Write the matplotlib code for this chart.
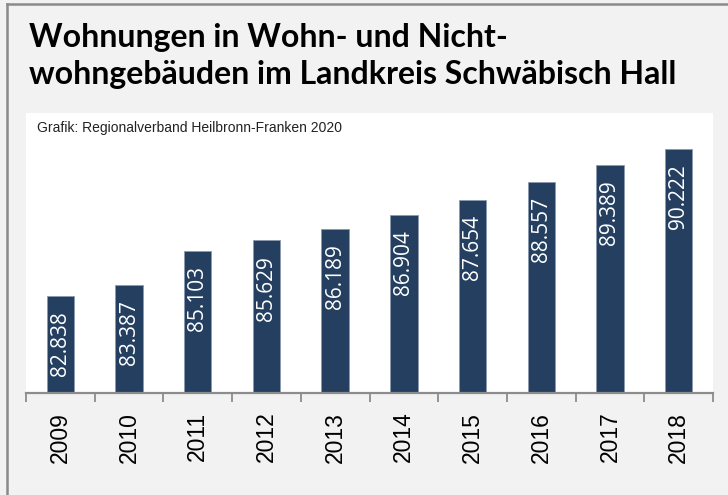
import matplotlib.pyplot as plt
from matplotlib.lines import Line2D

# data
years = ['2009', '2010', '2011', '2012', '2013', '2014', '2015', '2016', '2017', '2018']
wohnungen = [82838, 83387, 85103, 85629, 86189, 86904, 87654, 88557, 89389, 90222]
labels = ['82.838', '83.387', '85.103', '85.629', '86.189',
          '86.904', '87.654', '88.557', '89.389', '90.222']

title_lines = ['Wohnungen in Wohn- und Nicht-',
               'wohngebäuden im Landkreis Schwäbisch Hall']
source = 'Grafik: Regionalverband Heilbronn-Franken 2020'

W, H = 728, 495
bar_color = '#253f61'
axis_grey = '#8c8c8c'

fig = plt.figure(figsize=(W / 100, H / 100), dpi=100)
fig.patch.set_facecolor('#f2f2f2')

# grey frame at top and left
fig.add_artist(Line2D([7 / W, 1], [1 - 4 / H, 1 - 4 / H], color='#8a8a8a', lw=1.8))
fig.add_artist(Line2D([7 / W, 7 / W], [0, 1 - 4 / H], color='#8a8a8a', lw=1.8))

# title, two lines
for i, line in enumerate(title_lines):
    fig.text(29 / W, 1 - (47 + 37 * i) / H, line, fontsize=23, fontweight='bold',
             family='Lato', va='baseline', ha='left', color='black')

# white plotting panel
ax = fig.add_axes([26 / W, 1 - 393 / H, (713 - 26) / W, (393 - 113) / H])
ax.set_facecolor('white')

x = list(range(len(years)))
bars = ax.bar(x, wohnungen, width=0.4, color=bar_color, edgecolor='#8a9ab0', linewidth=0.6)

for xi, val, lab in zip(x, wohnungen, labels):
    ax.annotate(lab, (xi, val), xytext=(0, -11), textcoords='offset points',
                rotation=90, ha='center', va='top', color='white',
                fontsize=15, family='Open Sans')

ax.set_xlim(-0.5, len(years) - 0.5)
ax.set_ylim(78000, 92000)
ax.set_yticks([])

for s in ['top', 'right', 'left']:
    ax.spines[s].set_visible(False)
ax.spines['bottom'].set_color(axis_grey)
ax.spines['bottom'].set_linewidth(1.6)

# labels centred under bars, tick marks between categories
ax.set_xticks(x)
ax.set_xticklabels(years, rotation=90, fontsize=16.5, family='Liberation Sans', va='top')
ax.set_xticks([i - 0.5 for i in range(len(years) + 1)], minor=True)
ax.tick_params(axis='x', which='major', length=0, pad=13.5)
ax.tick_params(axis='x', which='minor', length=6.5, width=1.3, color=axis_grey, direction='out')

ax.text(37 / W, 1 - 128 / H, source, transform=fig.transFigure, fontsize=10,
        family='Liberation Sans', va='center', ha='left', color='#222222')

fig.savefig('out.png', dpi=100, facecolor=fig.get_facecolor())
